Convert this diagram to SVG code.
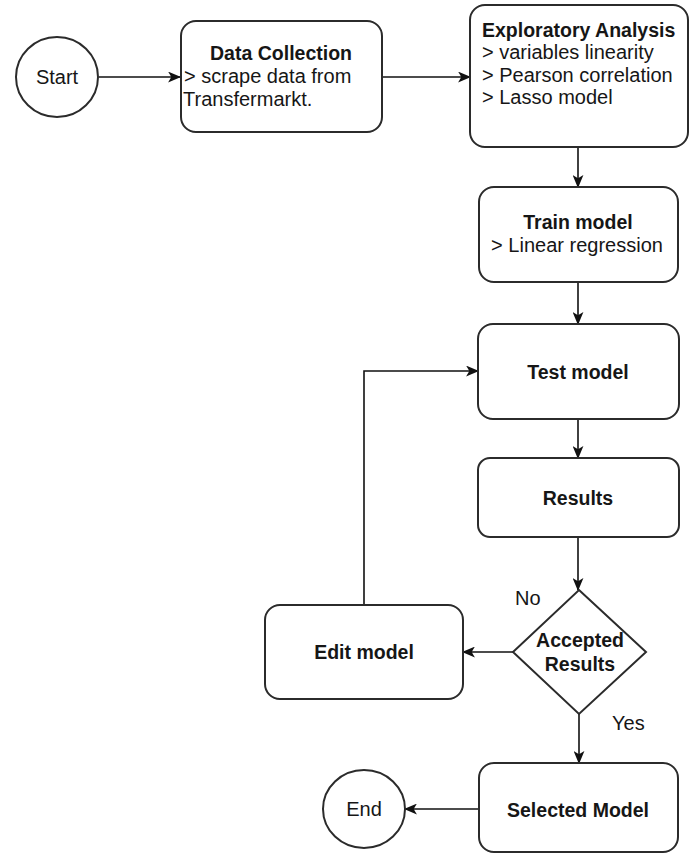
<svg xmlns="http://www.w3.org/2000/svg" width="695" height="855" viewBox="0 0 695 855">
  <defs>
    <marker id="arr" viewBox="0 0 12 10" refX="11" refY="5" markerWidth="13" markerHeight="11" markerUnits="userSpaceOnUse" orient="auto">
      <path d="M0,0 L12,5 L0,10 L3,5 Z" fill="#111"/>
    </marker>
  </defs>
  <style>
    .box { fill: #fff; stroke: #2b2b2b; stroke-width: 2; }
    .t { font-family: "Liberation Sans", Arial, sans-serif; font-size: 20px; fill: #161616; }
    .b { font-weight: bold; font-size: 19.5px; }
    .c { text-anchor: middle; }
    .edge { fill: none; stroke: #111; stroke-width: 1.6; marker-end: url(#arr); }
  </style>
  <rect width="695" height="855" fill="#fff"/>

  <g id="connectors">
    <path class="edge" d="M99,77 L180,77"/>
    <path class="edge" d="M382,77 L470,77"/>
    <path class="edge" d="M578,147 L578,187"/>
    <path class="edge" d="M578,282 L578,324"/>
    <path class="edge" d="M578,419 L578,458"/>
    <path class="edge" d="M578,537 L578,590"/>
    <path class="edge" d="M513,652 L463,652"/>
    <path class="edge" d="M364,605 L364,371 L478,371"/>
    <path class="edge" d="M579,714 L579,763"/>
    <path class="edge" d="M479,809 L405,809"/>
  </g>

  <g id="start">
    <ellipse class="box" cx="57" cy="77" rx="41" ry="40"/>
    <text class="t c" x="57" y="84">Start</text>
  </g>

  <g id="data-collection">
    <rect class="box" x="181" y="21" width="201" height="111" rx="15"/>
    <text class="t b c" x="281" y="60">Data Collection</text>
    <text class="t" x="184" y="83">&gt; scrape data from</text>
    <text class="t" x="183" y="106">Transfermarkt.</text>
  </g>

  <g id="exploratory-analysis">
    <rect class="box" x="470" y="5" width="218" height="142" rx="15"/>
    <text class="t b" x="482" y="37">Exploratory Analysis</text>
    <text class="t" x="482" y="59">&gt; variables linearity</text>
    <text class="t" x="482" y="82">&gt; Pearson correlation</text>
    <text class="t" x="482" y="104">&gt; Lasso model</text>
  </g>

  <g id="train-model">
    <rect class="box" x="479" y="187" width="199" height="95" rx="15"/>
    <text class="t b c" x="578" y="229">Train model</text>
    <text class="t c" x="577" y="252">&gt; Linear regression</text>
  </g>

  <g id="test-model">
    <rect class="box" x="478" y="324" width="201" height="95" rx="15"/>
    <text class="t b c" x="578" y="379">Test model</text>
  </g>

  <g id="results">
    <rect class="box" x="478" y="458" width="201" height="79" rx="12"/>
    <text class="t b c" x="578" y="505">Results</text>
  </g>

  <g id="accepted-results">
    <path class="box" d="M579,590 L646,652 L579,714 L513,652 Z"/>
    <text class="t b c" x="580" y="647">Accepted</text>
    <text class="t b c" x="580" y="671">Results</text>
  </g>

  <g id="labels">
    <text class="t" x="515" y="605">No</text>
    <text class="t" x="612" y="730">Yes</text>
  </g>

  <g id="edit-model">
    <rect class="box" x="265" y="605" width="198" height="94" rx="15"/>
    <text class="t b c" x="364" y="659">Edit model</text>
  </g>

  <g id="selected-model">
    <rect class="box" x="479" y="763" width="199" height="89" rx="15"/>
    <text class="t b c" x="578" y="817">Selected Model</text>
  </g>

  <g id="end">
    <ellipse class="box" cx="364" cy="809" rx="41" ry="39"/>
    <text class="t c" x="364" y="816">End</text>
  </g>
</svg>
